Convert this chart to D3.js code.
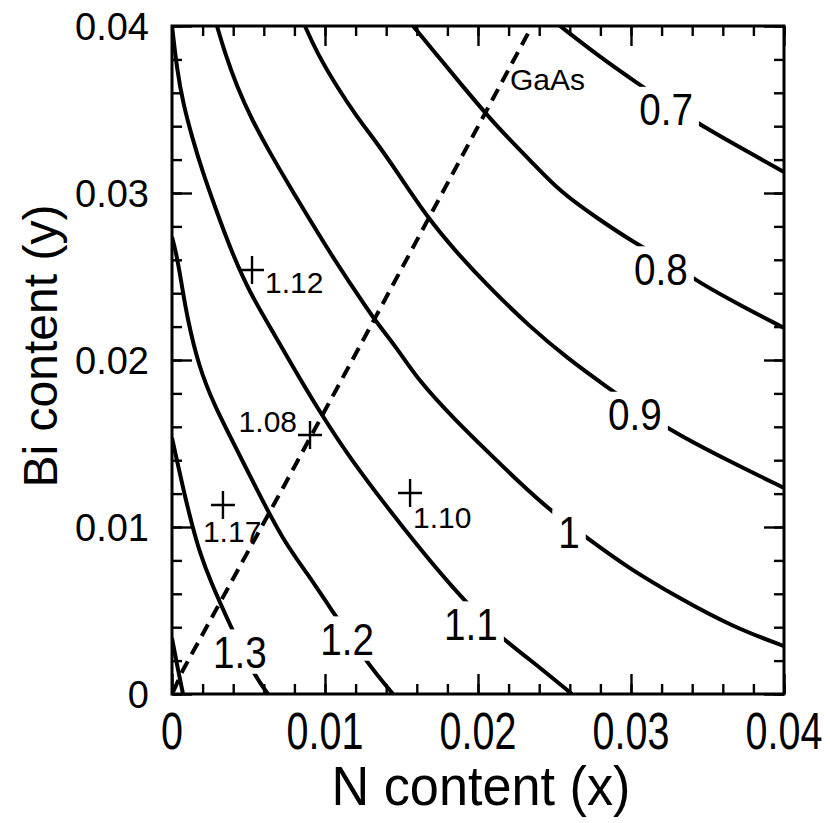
<!DOCTYPE html>
<html><head><meta charset="utf-8">
<script src="https://cdn.jsdelivr.net/npm/d3@7"></script>
<style>body{margin:0;background:#fff}svg{display:block}</style>
</head><body>
<svg id="c" width="830" height="823"></svg>
<script>
// ---- data ----
const xTicks = [0, 0.01, 0.02, 0.03, 0.04];
const yTicks = [0, 0.01, 0.02, 0.03, 0.04];
const xTickLabels = ["0", "0.01", "0.02", "0.03", "0.04"];
const yTickLabels = ["0", "0.01", "0.02", "0.03", "0.04"];

const c07N  = [0.02536, 0.02797, 0.03039, 0.03255, 0.03471, 0.04];
const c07Bi = [0.04,    0.03814, 0.03659, 0.03527, 0.03395, 0.03126];

const c08N  = [0.01575, 0.01732, 0.01882, 0.02124, 0.02340, 0.02536, 0.02797, 0.03013, 0.03255, 0.03451, 0.03712, 0.04];
const c08Bi = [0.04,    0.03826, 0.03659, 0.03395, 0.03198, 0.03006, 0.02838, 0.02707, 0.02581, 0.02461, 0.02329, 0.02192];

const c09N  = [0.00869, 0.00948, 0.01078, 0.01209, 0.01340, 0.01471, 0.01667, 0.01863, 0.02078, 0.02340, 0.02582, 0.02843, 0.03059, 0.03275, 0.03627, 0.04];
const c09Bi = [0.04,    0.03838, 0.03635, 0.03455, 0.03299, 0.03126, 0.02856, 0.02641, 0.02431, 0.02198, 0.02012, 0.01838, 0.01701, 0.01569, 0.01401, 0.01234];

const c10N  = [0.00294, 0.00346, 0.00425, 0.00523, 0.00641, 0.00771, 0.00902, 0.01046, 0.01163, 0.01314, 0.01471, 0.01608, 0.01850, 0.02065, 0.02288, 0.02484, 0.02732, 0.02974, 0.03301, 0.03667, 0.04];
const c10Bi = [0.04,    0.03838, 0.03635, 0.03437, 0.03240, 0.03036, 0.02838, 0.02623, 0.02461, 0.02251, 0.02072, 0.01880, 0.01641, 0.01449, 0.01251, 0.01090, 0.00922, 0.00760, 0.00581, 0.00401, 0.00287];

const c11N  = [0, 0.00033, 0.00072, 0.00131, 0.00196, 0.00281, 0.00392, 0.00510, 0.00641, 0.00791, 0.00974, 0.01163, 0.01405, 0.01601, 0.01817, 0.02124, 0.02320, 0.02614];
const c11Bi = [0.04, 0.03737, 0.03539, 0.03335, 0.03138, 0.02916, 0.02641, 0.02401, 0.02198, 0.01958, 0.01677, 0.01413, 0.01120, 0.00892, 0.00653, 0.00353, 0.00222, 0];

const c12N  = [0, 0.00026, 0.00059, 0.00098, 0.00176, 0.00275, 0.00425, 0.00556, 0.00725, 0.00882, 0.01052, 0.01275, 0.01444];
const c12Bi = [0.02737, 0.02647, 0.02479, 0.02257, 0.01958, 0.01731, 0.01461, 0.01222, 0.00922, 0.00725, 0.00491, 0.00186, 0];

const c13N  = [0, 0.00039, 0.00078, 0.00131, 0.00183, 0.00248, 0.00379, 0.00529, 0.00627];
const c13Bi = [0.01533, 0.01371, 0.01210, 0.01012, 0.00844, 0.00683, 0.00413, 0.00126, 0];

const c14N  = [0, 0.00033, 0.00072];
const c14Bi = [0.00335, 0.00174, 0];

const contourLabels = ["0.7", "0.8", "0.9", "1", "1.1", "1.2", "1.3"];
const contourLabelN  = [0.03229, 0.03196, 0.03026, 0.02595, 0.01954, 0.01144, 0.00444];
const contourLabelBi = [0.03503, 0.02548, 0.01677, 0.00973, 0.00422, 0.00332, 0.00254];

const gaasN  = [0.00007, 0.00072, 0.00725, 0.01327, 0.02353];
const gaasBi = [0.00012, 0.00144, 0.01234, 0.02251, 0.04];
const gaasLabel = "GaAs";

const markerN  = [0.00523, 0.00902, 0.00333, 0.01556];
const markerBi = [0.02539, 0.01551, 0.01132, 0.01204];
const markerLabels = ["1.12", "1.08", "1.17", "1.10"];

const xTitle = "N content (x)";
const yTitle = "Bi content (y)";

// ---- drawing ----
const svg = d3.select("#c");
const L = 172, R = 784, T = 26, B = 694;
const x = d3.scaleLinear().domain([0, 0.04]).range([L, R]);
const y = d3.scaleLinear().domain([0, 0.04]).range([B, T]);
const FONT = "'Liberation Sans', Arial, Helvetica, sans-serif";

const contours = [
  [c07N, c07Bi], [c08N, c08Bi], [c09N, c09Bi], [c10N, c10Bi],
  [c11N, c11Bi], [c12N, c12Bi], [c13N, c13Bi], [c14N, c14Bi]
];
const line = d3.line().x(d => x(d[0])).y(d => y(d[1])).curve(d3.curveBasis);

svg.append("clipPath").attr("id", "clip").append("rect")
  .attr("x", L).attr("y", T).attr("width", R - L).attr("height", B - T);
const inner = svg.append("g").attr("clip-path", "url(#clip)");

contours.forEach(([xs, ys]) => {
  inner.append("path")
    .attr("d", line(xs.map((v, i) => [v, ys[i]])))
    .attr("fill", "none").attr("stroke", "#000").attr("stroke-width", 4)
    .attr("stroke-linecap", "butt");
});

// contour labels with white gap
const CFS = 45, CSX = 0.86;
contourLabels.forEach((t, i) => {
  const cx = x(contourLabelN[i]), cy = y(contourLabelBi[i]);
  const g = inner.append("g");
  const txt = g.append("text").text(t)
    .attr("font-family", FONT).attr("font-size", CFS)
    .attr("text-anchor", "middle")
    .attr("transform", `translate(${cx},${cy + CFS * 0.358}) scale(${CSX},1)`);
  const bb = txt.node().getBBox();
  const w = bb.width * CSX;
  g.insert("rect", "text")
    .attr("x", cx - w / 2 - 6).attr("y", cy - CFS * 0.36 - 6)
    .attr("width", w + 12).attr("height", CFS * 0.72 + 12)
    .attr("fill", "#fff");
});

// GaAs dashed line
inner.append("path")
  .attr("d", d3.line().x(d => x(d[0])).y(d => y(d[1]))(gaasN.map((v, i) => [v, gaasBi[i]])))
  .attr("fill", "none").attr("stroke", "#000").attr("stroke-width", 4)
  .attr("stroke-dasharray", "13,8");

inner.append("text").text(gaasLabel)
  .attr("font-family", FONT).attr("font-size", 30)
  .attr("x", x(0.02209)).attr("y", y(0.03617));

// markers
const labelOffsets = [[13, 23, "start"], [-13, -3, "end"], [-20, 37, "start"], [3, 35, "start"]];
markerN.forEach((v, i) => {
  const px = x(v), py = y(markerBi[i]);
  inner.append("path")
    .attr("d", `M${px - 12},${py}H${px + 12}M${px},${py - 14}V${py + 14}`)
    .attr("stroke", "#000").attr("stroke-width", 2.4).attr("fill", "none");
  const o = labelOffsets[i];
  inner.append("text").text(markerLabels[i])
    .attr("font-family", FONT).attr("font-size", 30)
    .attr("text-anchor", o[2])
    .attr("x", px + o[0]).attr("y", py + o[1]);
});

// axes ticks (inward on all four sides)
const minor = d3.range(0, 0.0401, 0.002);
const axisDefs = [
  [() => d3.axisBottom(x), `translate(0,${B})`, xTicks],
  [() => d3.axisTop(x), `translate(0,${T})`, xTicks],
  [() => d3.axisLeft(y), `translate(${L},0)`, yTicks],
  [() => d3.axisRight(y), `translate(${R},0)`, yTicks]
];
axisDefs.forEach(([mk, tr, major]) => {
  [[minor, 10], [major, 20]].forEach(([vals, size]) => {
    const g = svg.append("g").attr("transform", tr)
      .call(mk().tickValues(vals).tickSize(-size).tickSizeOuter(0).tickFormat(""));
    g.select(".domain").remove();
    g.selectAll("line").attr("stroke-width", 2.4);
  });
});

svg.append("rect").attr("x", L).attr("y", T).attr("width", R - L).attr("height", B - T)
  .attr("fill", "none").attr("stroke", "#000").attr("stroke-width", 3);

// tick labels
const XFS = 52, XSX = 0.76;
xTicks.forEach((v, i) => {
  svg.append("text").text(xTickLabels[i])
    .attr("font-family", FONT).attr("font-size", XFS).attr("text-anchor", "middle")
    .attr("transform", `translate(${x(v)},${749}) scale(${XSX},1)`);
});
yTicks.forEach((v, i) => {
  svg.append("text").text(yTickLabels[i])
    .attr("font-family", FONT).attr("font-size", 38).attr("text-anchor", "end")
    .attr("x", 149).attr("y", y(v) + 13.6);
});

// axis titles
svg.append("text").text(xTitle)
  .attr("font-family", FONT).attr("font-size", 55).attr("text-anchor", "middle")
  .attr("transform", `translate(${(L + R) / 2 + 3},805) scale(0.95,1)`);
svg.append("text").text(yTitle)
  .attr("font-family", FONT).attr("font-size", 48).attr("text-anchor", "middle")
  .attr("transform", `translate(57,346) rotate(-90)`);
</script>
</body></html>
